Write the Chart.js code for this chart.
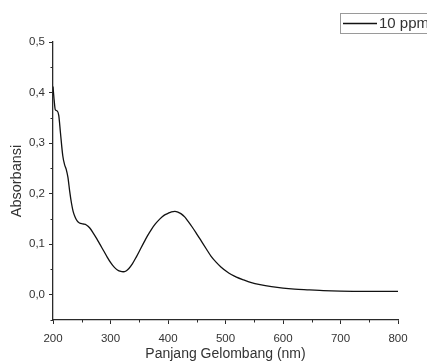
<!DOCTYPE html>
<html lang="id">
<head>
  <meta charset="UTF-8" />
  <title>Absorbansi 10 ppm</title>
  <script src="https://cdn.jsdelivr.net/npm/chart.js"></script>
  <style>
    html, body { margin: 0; padding: 0; background: #fff; }
    canvas { display: block; }
  </style>
</head>
<body>
  <canvas id="spektrum" width="427" height="362"></canvas>

  <script>
    // data (perkiraan)
    const wavelengths = [
      200, 202, 204, 207, 210, 213, 217, 220, 223, 226, 229, 232, 235, 238, 242,
      246, 252, 258, 264, 270, 276, 282, 288, 294, 300, 306, 312, 318, 322, 327,
      332, 338, 345, 351, 357, 364, 371, 378, 386, 393, 400, 406, 412, 418, 423,
      429, 435, 442, 449, 458, 467, 475, 484, 492, 502, 510, 519, 530, 545, 560,
      580, 600, 620, 646, 670, 700, 750, 800
    ];
    const absorbance = [
      0.412, 0.385, 0.366, 0.364, 0.355, 0.320, 0.275, 0.258, 0.248, 0.232, 0.205, 0.182, 0.165, 0.155, 0.146,
      0.142, 0.140, 0.138, 0.132, 0.122, 0.111, 0.099, 0.087, 0.075, 0.064, 0.055, 0.049, 0.046, 0.0455, 0.047,
      0.052, 0.061, 0.075, 0.088, 0.101, 0.116, 0.129, 0.140, 0.150, 0.157, 0.161, 0.164, 0.165, 0.163, 0.160,
      0.154, 0.145, 0.134, 0.122, 0.106, 0.090, 0.076, 0.064, 0.055, 0.046, 0.040, 0.035, 0.030, 0.024, 0.020,
      0.016, 0.013, 0.011, 0.0095, 0.008, 0.007, 0.0066, 0.0066
    ];
    const seriesLabel = '10 ppm';
    const xTitle = 'Panjang Gelombang (nm)';
    const yTitle = 'Absorbansi';

    const axisColor = '#2a2a2a';
    const textColor = '#333';
    const fontFamily = 'Arial, "Liberation Sans", sans-serif';

    const isMajorX = v => Math.round(v) % 100 === 0;
    const isMajorY = v => Math.round(v * 100) % 10 === 0;

    // minor tick pendek + kotak legenda
    const extras = {
      id: 'extras',
      afterDraw(chart) {
        const c = chart.ctx;
        const xs = chart.scales.x, ys = chart.scales.y;
        const area = chart.chartArea;
        c.save();
        c.strokeStyle = axisColor;
        c.lineWidth = 1;
        c.beginPath();
        xs.ticks.forEach(t => {
          if (isMajorX(t.value)) return;
          const px = Math.round(xs.getPixelForValue(t.value)) + 0.5;
          c.moveTo(px, area.bottom);
          c.lineTo(px, area.bottom + 2.5);
        });
        ys.ticks.forEach(t => {
          if (isMajorY(t.value)) return;
          const py = Math.round(ys.getPixelForValue(t.value)) + 0.5;
          c.moveTo(area.left, py);
          c.lineTo(area.left - 2.5, py);
        });
        c.stroke();

        // legenda
        c.strokeStyle = '#9a9a9a';
        c.strokeRect(340.5, 13.5, 100, 20);
        c.strokeStyle = '#111';
        c.lineWidth = 1.3;
        c.beginPath();
        c.moveTo(343, 23.5);
        c.lineTo(377, 23.5);
        c.stroke();
        c.fillStyle = textColor;
        c.font = '15px ' + fontFamily;
        c.textBaseline = 'middle';
        c.fillText(chart.data.datasets[0].label, 379, 24);
        c.restore();
      }
    };

    const ctx = document.getElementById('spektrum').getContext('2d');
    new Chart(ctx, {
      type: 'line',
      data: {
        datasets: [{
          label: seriesLabel,
          data: wavelengths.map((w, i) => ({ x: w, y: absorbance[i] })),
          borderColor: '#111',
          borderWidth: 1.3,
          pointRadius: 0,
          fill: false,
          cubicInterpolationMode: 'monotone'
        }]
      },
      options: {
        responsive: false,
        animation: false,
        layout: { padding: { top: 42, right: 29, left: 0, bottom: 0 } },
        plugins: {
          legend: { display: false },
          tooltip: { enabled: false }
        },
        scales: {
          x: {
            type: 'linear',
            min: 200,
            max: 800,
            afterFit: s => { s.height = 42; },
            border: { display: true, color: axisColor, width: 1.3 },
            grid: {
              drawOnChartArea: false,
              drawTicks: true,
              tickLength: 4,
              tickColor: c => isMajorX(c.tick.value) ? axisColor : 'rgba(0,0,0,0)'
            },
            ticks: {
              stepSize: 50,
              padding: 8,
              color: textColor,
              font: { size: 11.5, family: fontFamily },
              maxRotation: 0,
              autoSkip: false,
              callback: v => isMajorX(v) ? String(v) : ''
            },
            title: {
              display: true,
              text: xTitle,
              color: textColor,
              font: { size: 14, family: fontFamily, lineHeight: 1 },
              padding: { top: 0, bottom: 1 }
            }
          },
          y: {
            min: -0.05,
            max: 0.5,
            afterFit: s => { s.width = 53; },
            border: { display: true, color: axisColor, width: 1.3 },
            grid: {
              drawOnChartArea: false,
              drawTicks: true,
              tickLength: 4,
              tickColor: c => isMajorY(c.tick.value) ? axisColor : 'rgba(0,0,0,0)'
            },
            ticks: {
              stepSize: 0.05,
              padding: 4,
              color: textColor,
              font: { size: 11.5, family: fontFamily },
              autoSkip: false,
              callback: v => isMajorY(v) ? v.toFixed(1).replace('.', ',') : ''
            },
            title: {
              display: true,
              text: yTitle,
              color: textColor,
              font: { size: 14.5, family: fontFamily, lineHeight: 1 },
              padding: { top: 10, bottom: 0 }
            }
          }
        }
      },
      plugins: [extras]
    });
  </script>
</body>
</html>
